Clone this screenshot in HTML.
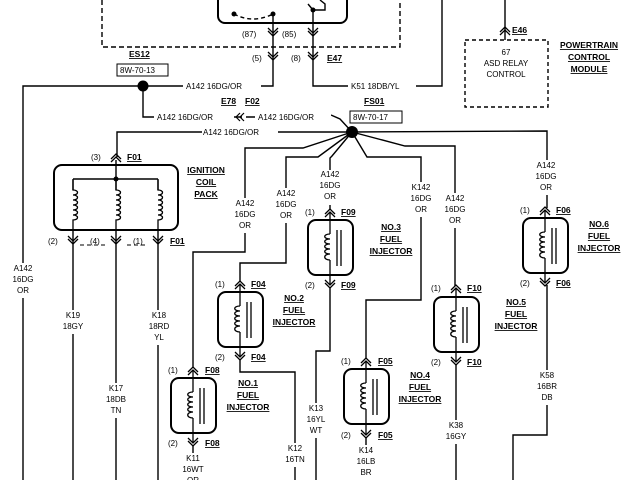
<!DOCTYPE html>
<html><head><meta charset="utf-8"><style>
html,body{margin:0;padding:0;background:#fff;}
svg{display:block;}
text{font-family:"Liberation Sans",sans-serif;font-size:8px;fill:#000;}
.b{font-weight:bold;text-decoration:underline;font-size:8.5px;}
</style></head><body>
<svg width="640" height="480" viewBox="0 0 640 480" xmlns="http://www.w3.org/2000/svg">
<defs>
<g id="up" fill="none" stroke="#000" stroke-width="1.3"><path d="M-5 2 L0 -3 L5 2 M-5 5 L0 0 L5 5"/></g>
<g id="dn" fill="none" stroke="#000" stroke-width="1.3"><path d="M-5 -5 L0 0 L5 -5 M-5 -2 L0 3 L5 -2"/></g>
<g id="inj" fill="none" stroke="#000">
<rect x="-22" y="0" width="45" height="55" rx="8" stroke-width="2"/>
<path d="M0 8 L0 14 M0 40 L0 47" stroke-width="1.3"/>
<path d="M0 14 C-7 14 -7 19 0 19 C-7 19 -7 24 0 24 C-7 24 -7 29 0 29 C-7 29 -7 34 0 34 C-7 34 -7 40 0 40" stroke-width="1.3"/>
<path d="M7 10 L7 46 M11 10 L11 46" stroke-width="1.3"/>
</g>
<g id="coil" fill="none" stroke="#000" stroke-width="1.3">
<path d="M0 0 L0 10 C6 10 6 15 0 15 C6 15 6 20 0 20 C6 20 6 25 0 25 C6 25 6 30 0 30 C6 30 6 35 0 35 C6 35 6 40 0 40 L0 50"/>
</g>
</defs>
<g fill="none" stroke="#000" stroke-width="1.4">
<path d="M102 0 L102 47 L400 47 L400 0" stroke-dasharray="5,3"/>
<rect x="218" y="-20" width="129" height="43" rx="7" stroke-width="2"/>
<path d="M234 14 Q253 24 273 14" stroke-dasharray="4,3"/>
<path d="M273 12 L273 86 L143 86 L23 86 L23 480"/>
<path d="M313 8 L313 86 L442 86 L442 0"/>
<path d="M313 10 L325 10 L325 4 L320 0 M313 10 L308 4"/>
<path d="M505 0 L505 40"/>
<rect x="465" y="40" width="83" height="67" stroke-dasharray="4,3"/>
<rect x="117" y="64" width="51" height="12" stroke-width="1"/>
<rect x="350" y="111" width="52" height="12" stroke-width="1"/>
<path d="M143 86 L143 117 L155 117 M234 117 L242 117 M246 117 L258 117"/>
<path d="M240 113 L236 117 L240 121 M244 113 L240 117 L244 121" stroke-width="1.2"/>
<path d="M331 115 L340 119 L352 132"/>
<path d="M352 132 L117 132 L117 157"/>
<path d="M352 132 L547 131 L547 208"/>
<path d="M352 132 L303 148 L245 148 L245 252 L193 252 L193 368"/>
<path d="M352 132 L318 157 L286 157 L286 263 L240 263 L240 282"/>
<path d="M352 132 L332 156 L330 158 L330 210"/>
<path d="M352 132 L367 157 L421 157 L421 300 L366 300 L366 358"/>
<path d="M352 132 L405 146 L455 146 L455 286"/>
<rect x="54" y="165" width="124" height="65" rx="8" stroke-width="2"/>
<path d="M116 160 L116 179 M73 179 L158 179 M73 179 L73 190 M158 179 L158 190 M116 179 L116 190"/>
<path d="M73 230 L73 480 M116 230 L116 480 M158 230 L158 480"/>
<path d="M80 245 L105 245 M127 245 L148 245" stroke-dasharray="4,3" stroke-width="1"/>
<path d="M330 287 L330 351 L316 351 L316 480"/>
<path d="M240 360 L240 372 L295 372 L295 480"/>
<path d="M193 445 L193 480"/>
<path d="M366 437 L366 480"/>
<path d="M456 364 L456 480"/>
<path d="M547 285 L547 435 L513 435 L513 480"/>
</g>
<circle cx="234" cy="14" r="2.5"/><circle cx="273" cy="14" r="2.5"/><circle cx="313" cy="10" r="2.5"/>
<circle cx="143" cy="86" r="5.5"/>
<circle cx="352" cy="132" r="6"/>
<circle cx="116" cy="179" r="2.5"/>
<use href="#coil" x="73" y="180"/><use href="#coil" x="116" y="180"/><use href="#coil" x="158" y="180"/>
<use href="#inj" x="330" y="220"/>
<use href="#inj" x="545" y="218"/>
<use href="#inj" x="240" y="292"/>
<use href="#inj" x="456" y="297"/>
<use href="#inj" x="193" y="378"/>
<use href="#inj" x="366" y="369"/>
<path d="M330 212 L330 228 M545 210 L545 226 M240 284 L240 300 M456 289 L456 305 M193 370 L193 386 M366 361 L366 377" stroke="#000" stroke-width="1.3"/>
<path d="M330 267 L330 285 M545 265 L545 283 M240 339 L240 357 M456 344 L456 362 M193 425 L193 443 M366 416 L366 435" stroke="#000" stroke-width="1.3"/>
<use href="#dn" x="273" y="33"/><use href="#dn" x="313" y="33"/>
<use href="#dn" x="273" y="57"/><use href="#dn" x="313" y="57"/>
<use href="#up" x="505" y="30"/>
<use href="#up" x="116" y="157"/>
<use href="#dn" x="73" y="241"/><use href="#dn" x="116" y="241"/><use href="#dn" x="158" y="241"/>
<use href="#up" x="330" y="212"/><use href="#dn" x="330" y="285"/>
<use href="#up" x="545" y="210"/><use href="#dn" x="545" y="283"/>
<use href="#up" x="240" y="284"/><use href="#dn" x="240" y="357"/>
<use href="#up" x="456" y="288"/><use href="#dn" x="456" y="362"/>
<use href="#up" x="193" y="370"/><use href="#dn" x="193" y="443"/>
<use href="#up" x="366" y="361"/><use href="#dn" x="366" y="435"/>
<g>
<rect x="183" y="81" width="78" height="10" fill="#fff"/>
<rect x="348" y="81" width="68" height="10" fill="#fff"/>
<rect x="154" y="112" width="79" height="10" fill="#fff"/>
<rect x="255" y="112" width="76" height="10" fill="#fff"/>
<text x="242" y="37">(87)</text><text x="282" y="37">(85)</text>
<text x="252" y="61">(5)</text><text x="291" y="61">(8)</text>
<text class="b" x="327" y="61">E47</text>
<text class="b" x="129" y="57">ES12</text>
<text x="120" y="73">8W-70-13</text>
<text x="186" y="89">A142 16DG/OR</text>
<text x="351" y="89">K51 18DB/YL</text>
<text class="b" x="512" y="33">E46</text>
<text x="506" y="55" text-anchor="middle">67</text>
<text x="506" y="66" text-anchor="middle">ASD RELAY</text>
<text x="506" y="77" text-anchor="middle">CONTROL</text>
<text class="b" x="589" y="48" text-anchor="middle">POWERTRAIN</text>
<text class="b" x="589" y="60" text-anchor="middle">CONTROL</text>
<text class="b" x="589" y="72" text-anchor="middle">MODULE</text>
<text class="b" x="221" y="104">E78</text><text class="b" x="245" y="104">F02</text>
<text class="b" x="364" y="104">FS01</text>
<text x="353" y="120">8W-70-17</text>
<text x="157" y="120">A142 16DG/OR</text>
<text x="258" y="120">A142 16DG/OR</text>
<rect x="202" y="128" width="76" height="8" fill="#fff"/>
<text x="203" y="135">A142 16DG/OR</text>
<text x="91" y="160">(3)</text><text class="b" x="127" y="160">F01</text>
<text class="b" x="206" y="173" text-anchor="middle">IGNITION</text>
<text class="b" x="206" y="185" text-anchor="middle">COIL</text>
<text class="b" x="206" y="197" text-anchor="middle">PACK</text>
<text x="48" y="244">(2)</text><text x="90" y="244">(4)</text><text x="133" y="244">(1)</text>
<text class="b" x="170" y="244">F01</text>
</g>
<g text-anchor="middle">
<rect x="10" y="263" width="26" height="35" fill="#fff"/>
<text x="23" y="271">A142</text><text x="23" y="282">16DG</text><text x="23" y="293">OR</text>
<rect x="230" y="198" width="30" height="35" fill="#fff"/>
<text x="245" y="206">A142</text><text x="245" y="217">16DG</text><text x="245" y="228">OR</text>
<rect x="272" y="188" width="30" height="35" fill="#fff"/>
<text x="286" y="196">A142</text><text x="286" y="207">16DG</text><text x="286" y="218">OR</text>
<rect x="315" y="170" width="30" height="35" fill="#fff"/>
<text x="330" y="177">A142</text><text x="330" y="188">16DG</text><text x="330" y="199">OR</text>
<rect x="406" y="182" width="30" height="35" fill="#fff"/>
<text x="421" y="190">K142</text><text x="421" y="201">16DG</text><text x="421" y="212">OR</text>
<rect x="441" y="193" width="30" height="35" fill="#fff"/>
<text x="455" y="201">A142</text><text x="455" y="212">16DG</text><text x="455" y="223">OR</text>
<rect x="532" y="160" width="30" height="35" fill="#fff"/>
<text x="546" y="168">A142</text><text x="546" y="179">16DG</text><text x="546" y="190">OR</text>
<rect x="60" y="310" width="26" height="24" fill="#fff"/>
<text x="73" y="318">K19</text><text x="73" y="329">18GY</text>
<rect x="103" y="383" width="26" height="35" fill="#fff"/>
<text x="116" y="391">K17</text><text x="116" y="402">18DB</text><text x="116" y="413">TN</text>
<rect x="145" y="310" width="26" height="35" fill="#fff"/>
<text x="159" y="318">K18</text><text x="159" y="329">18RD</text><text x="159" y="340">YL</text>
<rect x="303" y="403" width="26" height="35" fill="#fff"/>
<text x="316" y="411">K13</text><text x="316" y="422">16YL</text><text x="316" y="433">WT</text>
<rect x="282" y="443" width="26" height="24" fill="#fff"/>
<text x="295" y="451">K12</text><text x="295" y="462">16TN</text>
<rect x="180" y="453" width="26" height="35" fill="#fff"/>
<text x="193" y="461">K11</text><text x="193" y="472">16WT</text><text x="193" y="483">OR</text>
<rect x="353" y="445" width="26" height="35" fill="#fff"/>
<text x="366" y="453">K14</text><text x="366" y="464">16LB</text><text x="366" y="475">BR</text>
<rect x="443" y="420" width="26" height="24" fill="#fff"/>
<text x="456" y="428">K38</text><text x="456" y="439">16GY</text>
<rect x="534" y="370" width="26" height="35" fill="#fff"/>
<text x="547" y="378">K58</text><text x="547" y="389">16BR</text><text x="547" y="400">DB</text>
<text class="b" x="391" y="230">NO.3</text><text class="b" x="391" y="242">FUEL</text><text class="b" x="391" y="254">INJECTOR</text>
<text class="b" x="599" y="227">NO.6</text><text class="b" x="599" y="239">FUEL</text><text class="b" x="599" y="251">INJECTOR</text>
<text class="b" x="294" y="301">NO.2</text><text class="b" x="294" y="313">FUEL</text><text class="b" x="294" y="325">INJECTOR</text>
<text class="b" x="516" y="305">NO.5</text><text class="b" x="516" y="317">FUEL</text><text class="b" x="516" y="329">INJECTOR</text>
<text class="b" x="248" y="386">NO.1</text><text class="b" x="248" y="398">FUEL</text><text class="b" x="248" y="410">INJECTOR</text>
<text class="b" x="420" y="378">NO.4</text><text class="b" x="420" y="390">FUEL</text><text class="b" x="420" y="402">INJECTOR</text>
</g>
<g>
<text x="305" y="215">(1)</text><text class="b" x="341" y="215">F09</text>
<text x="305" y="288">(2)</text><text class="b" x="341" y="288">F09</text>
<text x="520" y="213">(1)</text><text class="b" x="556" y="213">F06</text>
<text x="520" y="286">(2)</text><text class="b" x="556" y="286">F06</text>
<text x="215" y="287">(1)</text><text class="b" x="251" y="287">F04</text>
<text x="215" y="360">(2)</text><text class="b" x="251" y="360">F04</text>
<text x="431" y="291">(1)</text><text class="b" x="467" y="291">F10</text>
<text x="431" y="365">(2)</text><text class="b" x="467" y="365">F10</text>
<text x="168" y="373">(1)</text><text class="b" x="205" y="373">F08</text>
<text x="168" y="446">(2)</text><text class="b" x="205" y="446">F08</text>
<text x="341" y="364">(1)</text><text class="b" x="378" y="364">F05</text>
<text x="341" y="438">(2)</text><text class="b" x="378" y="438">F05</text>
</g>
</svg>
</body></html>
